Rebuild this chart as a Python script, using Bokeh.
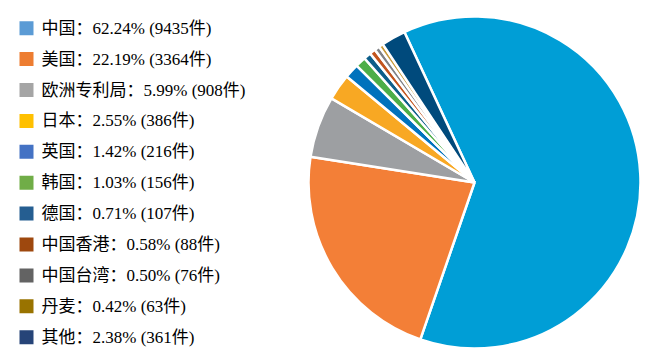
from bokeh.plotting import figure
from bokeh.models import Range1d, ColumnDataSource
from bokeh.core.properties import value
from bokeh.embed import file_html
from bokeh.resources import INLINE
import math

# ---- data ----
names = ["中国", "美国", "欧洲专利局", "日本", "英国", "韩国", "德国", "中国香港", "中国台湾", "丹麦", "其他"]
percents = [62.24, 22.19, 5.99, 2.55, 1.42, 1.03, 0.71, 0.58, 0.50, 0.42, 2.38]
counts = [9435, 3364, 908, 386, 216, 156, 107, 88, 76, 63, 361]
pie_colors = ["#009ED6", "#F37F37", "#9D9FA2", "#F8A823", "#0072BC", "#4DAE48",
              "#0D5E8A", "#C2541D", "#808285", "#C89A3A", "#004A7C"]
legend_colors = ["#5B9BD5", "#ED7D31", "#A5A5A5", "#FFC000", "#4472C4", "#70AD47",
                 "#255E91", "#9E480E", "#636363", "#997300", "#264478"]

W, H = 645, 350
p = figure(width=W, height=H, output_backend="svg", toolbar_location=None,
           x_range=Range1d(0, W), y_range=Range1d(0, H), min_border=0)
p.axis.visible = False
p.grid.visible = False
p.outline_line_color = None
p.background_fill_color = "white"

# ---- pie ----
total = sum(percents)
start = math.radians(115.0)
starts, ends = [], []
a = start
for v in percents:
    sweep = 2 * math.pi * v / total
    starts.append(a)
    ends.append(a - sweep)
    a -= sweep
pie_src = ColumnDataSource(dict(start=starts, end=ends, color=pie_colors))
p.wedge(x=474, y=H - 182, radius=166, radius_units="screen",
        start_angle="start", end_angle="end", direction="clock",
        fill_color="color", line_color="white", line_width=2.5, source=pie_src)

# ---- legend ----
n = len(names)
ly = [H - (27.7 + i * 30.9) for i in range(n)]
labels = [f"{nm}：{pc:.2f}% ({c}件)" for nm, pc, c in zip(names, percents, counts)]
leg_src = ColumnDataSource(dict(x=[26] * n, tx=[41] * n, y=ly, color=legend_colors, label=labels))
p.rect(x="x", y="y", width=14, height=14, width_units="screen", height_units="screen",
       fill_color="color", line_color=None, source=leg_src)
p.text(x="tx", y="y", text="label", text_font=value("Liberation Serif, Noto Sans CJK SC"),
       text_font_size="17px", text_baseline="middle", text_align="left",
       text_color="#000000", source=leg_src)

open("out.html", "w").write(file_html(p, INLINE))
